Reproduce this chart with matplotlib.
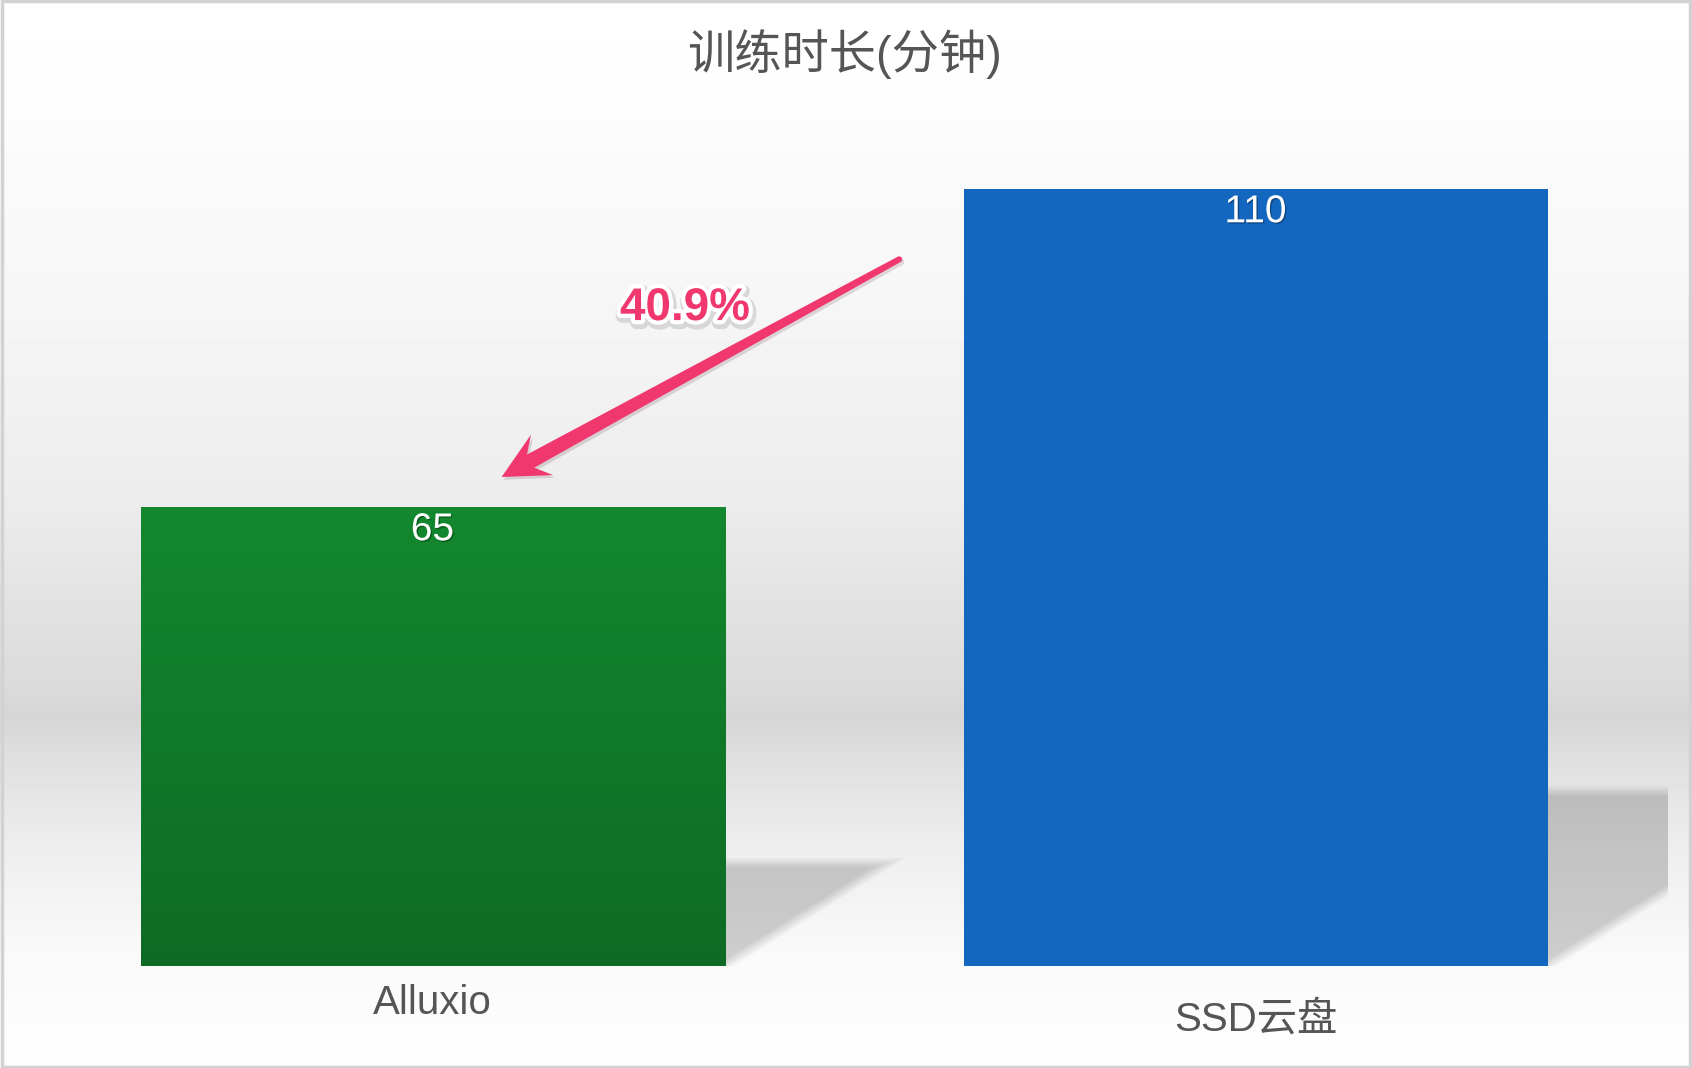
#!/usr/bin/env python3
"""
Training time comparison: Alluxio vs SSD cloud disk.
"""

import numpy as np
import matplotlib
matplotlib.use("Agg")
import matplotlib.pyplot as plt
import matplotlib.patheffects as pe
from matplotlib.patches import Polygon, Rectangle

plt.rcParams['font.family'] = ['Liberation Sans', 'Noto Sans CJK SC', 'DejaVu Sans']

# Data
categories = ['Alluxio', 'SSD云盘']
minutes = [65, 110]
title = '训练时长(分钟)'

bar_colors = ['#13882e', '#1467bf']
bar_bottom_colors = ['#0e6b25', '#1467bf']
label_drop = [37, 54]          # px below the baseline for each category label
pink = '#f0386e'
text_gray = '#555555'

W, H = 1692, 1068
fig = plt.figure(figsize=(W / 100, H / 100), dpi=100)

# Background: soft vertical gradient (white -> grey band -> white)
bg = fig.add_axes([0, 0, 1, 1], zorder=-10)
rows = np.arange(H)
shade = np.interp(rows, [0, 120, 300, 500, 690, 715, 760, 850, 950, 1068],
                  [255, 252, 246, 236, 218, 213, 224, 238, 249, 254]) / 255
bg.imshow(np.repeat(shade[:, None], 4, axis=1), cmap='gray', vmin=0, vmax=1,
          aspect='auto', extent=(0, 1, 0, 1))
bg.set_xlim(0, 1)
bg.set_ylim(0, 1)
bg.axis('off')
bg.add_patch(Rectangle((0.001, 0.001), 0.998, 0.998, fill=False,
                       edgecolor='#d2d2d2', linewidth=2.5))

# Main axes: baseline at y=966px, 7.067 px per minute
ax = fig.add_axes([0, (H - 966) / H, 1, 848 / H])
ax.patch.set_alpha(0)
xlim = (-432.5 / 823, (W - 432.5) / 823)
ylim = (0, 120)
bar_width = 584 / 823
px_per_unit_x = 823
px_per_unit_y = 848 / 120

# Shadows behind bars (blurred triangle falling to the right)
clip_x = (1668 - 432.5) / 823
for i, v in enumerate(minutes):
    xr = i + bar_width / 2
    h_px = 0.225 * v * px_per_unit_y
    w_px = h_px / 0.63
    for e in np.linspace(-5, 5, 9):
        top = (h_px + e) / px_per_unit_y
        tip = xr + (w_px * (h_px + e) / h_px + 1.9 * e) / px_per_unit_x
        base = xr + 1.9 * e / px_per_unit_x
        poly = Polygon([(xr - 0.02, 0), (xr - 0.02, top), (tip, top), (base, 0)],
                       closed=True, facecolor='black', edgecolor='none',
                       alpha=0.019, zorder=1)
        ax.add_patch(poly)
        clip_rect = Rectangle((xlim[0], 0), clip_x - xlim[0], 120, transform=ax.transData)
        poly.set_clip_path(clip_rect)

# Bars with subtle vertical gradient
bars = ax.bar(range(len(minutes)), minutes, width=bar_width, color=bar_colors, zorder=2)
for bar, c_top, c_bot in zip(bars, bar_colors, bar_bottom_colors):
    top = np.array(matplotlib.colors.to_rgb(c_top))
    bot = np.array(matplotlib.colors.to_rgb(c_bot))
    t = np.linspace(0, 1, 200)[:, None]
    grad = (top * (1 - t) + bot * t)[:, None, :]
    im = ax.imshow(grad, aspect='auto', zorder=3,
                   extent=(bar.get_x(), bar.get_x() + bar.get_width(), 0, bar.get_height()))
    im.set_clip_path(bar)

ax.set_xlim(*xlim)
ax.set_ylim(*ylim)
ax.axis('off')

# Value labels inside the bars
for i, v in enumerate(minutes):
    ax.annotate(f"{v}", xy=(i, v), xytext=(0, -17), textcoords='offset points',
                ha='center', va='center', color='white', fontsize=28, zorder=5,
                path_effects=[pe.withSimplePatchShadow(offset=(1, -1), shadow_rgbFace='black', alpha=0.3)])

# Category labels
for i, (cat, drop) in enumerate(zip(categories, label_drop)):
    ax.annotate(cat, xy=(i, 0), xytext=(0, -drop * 0.72), textcoords='offset points',
                ha='center', va='center', color=text_gray, fontsize=29)

# Title
fig.text(0.499, 1 - 54 / H, title, ha='center', va='center', color=text_gray, fontsize=34)


# Tapered arrow from the SSD bar towards the Alluxio bar
def draw_arrow(tail, tip, color):
    p_tail = ax.transData.transform(tail)
    p_tip = ax.transData.transform(tip)
    d = p_tail - p_tip
    u = d / np.hypot(*d)
    n = np.array([-u[1], u[0]])
    head_len, head_half, neck, w_neck, w_tail = 46, 23, 33, 7.5, 3.0
    pts = [p_tip,
           p_tip + u * head_len + n * head_half,
           p_tip + u * neck + n * w_neck,
           p_tail + n * w_tail]
    for a in np.linspace(0, np.pi, 10)[1:-1]:
        pts.append(p_tail + n * w_tail * np.cos(a) + u * w_tail * np.sin(a))
    pts += [p_tail - n * w_tail,
            p_tip + u * neck - n * w_neck,
            p_tip + u * head_len - n * head_half]
    pts = fig.transFigure.inverted().transform(np.array(pts))
    arrow = Polygon(pts, closed=True, facecolor=color, edgecolor='none',
                    transform=fig.transFigure, zorder=6,
                    path_effects=[pe.SimplePatchShadow(offset=(1.5, -2), alpha=0.15), pe.Normal()])
    fig.add_artist(arrow)


saving = (minutes[1] - minutes[0]) / minutes[1] * 100
draw_arrow(tail=(0.567, 100), tip=(0.084, 69.2), color=pink)
ax.text(0.307, 93.1, f"{saving:.1f}%", ha='center', va='center', color=pink,
        fontsize=33, fontweight='bold', zorder=7,
        path_effects=[pe.Stroke(linewidth=9, foreground=(0, 0, 0, 0.12), offset=(1, -2)),
                      pe.Stroke(linewidth=6, foreground='white'),
                      pe.Normal()])

plt.savefig('out.png', dpi=100)
plt.close(fig)
